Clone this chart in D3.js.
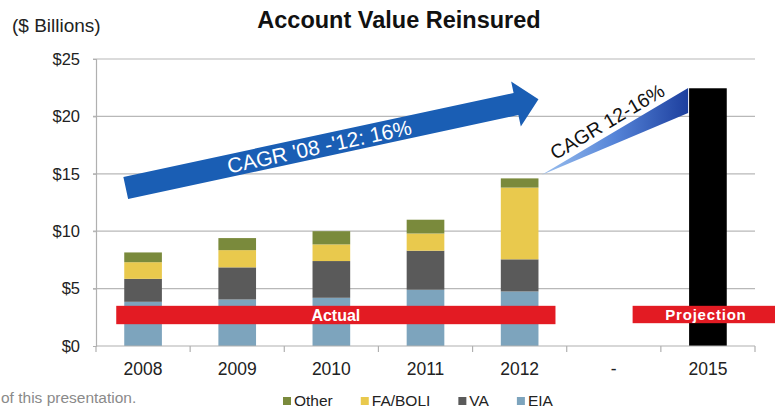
<!DOCTYPE html>
<html>
<head>
<meta charset="utf-8">
<script src="https://cdn.jsdelivr.net/npm/d3@7"></script>
<style>
  body { margin: 0; background: #fff; }
  svg { display: block; font-family: "Liberation Sans", Arial, sans-serif; }
</style>
</head>
<body>
<div id="chart"></div>
<script>
// categories and values ($ billions)
const years = ["2008", "2009", "2010", "2011", "2012", "-", "2015"];
const actualYears = ["2008", "2009", "2010", "2011", "2012"];
const eia    = [3.85, 4.05, 4.2, 4.9, 4.75];
const va     = [2.0, 2.8, 3.2, 3.4, 2.8];
const faBoli = [1.45, 1.5, 1.45, 1.5, 6.25];
const other  = [0.85, 1.05, 1.15, 1.2, 0.8];
const projectionYear = "2015";
const projectionValue = 22.45;
const yTicks = [0, 5, 10, 15, 20, 25];
const seriesNames = ["EIA", "VA", "FA/BOLI", "Other"];
const legendOrder = ["Other", "FA/BOLI", "VA", "EIA"];

const width = 775, height = 409;
const colors = { "EIA": "#7da4bd", "VA": "#5a5a5a", "FA/BOLI": "#e9c94d", "Other": "#7a8a3c" };

const x = d3.scaleBand().domain(years).range([96, 755]).paddingInner(0.6).paddingOuter(0.3);
const y = d3.scaleLinear().domain([0, 25]).range([346, 59]);

const svg = d3.select("#chart").append("svg")
    .attr("width", width)
    .attr("height", height);

// gridlines
svg.append("g").selectAll("line")
   .data(yTicks.filter(d => d > 0))
   .enter().append("line")
   .attr("x1", 93).attr("x2", 755)
   .attr("y1", d => y(d)).attr("y2", d => y(d))
   .attr("stroke", "#b8b8b8").attr("stroke-width", 1.2);

// y axis
const yAxis = svg.append("g")
   .attr("transform", "translate(96,0)")
   .call(d3.axisLeft(y).tickValues(yTicks).tickSize(3).tickFormat(d => "$" + d));
yAxis.select(".domain").attr("stroke", "#b0b0b0").attr("stroke-width", 1.2);
yAxis.selectAll(".tick line").attr("stroke", "#b0b0b0");
yAxis.selectAll("text").attr("font-size", 16.5).attr("fill", "#222").attr("x", -16);

// stacked bars
const rows = actualYears.map((yr, i) => ({ year: yr, "EIA": eia[i], "VA": va[i], "FA/BOLI": faBoli[i], "Other": other[i] }));
const stack = d3.stack().keys(seriesNames)(rows);

svg.append("g").selectAll("g")
   .data(stack)
   .enter().append("g")
   .attr("fill", d => colors[d.key])
   .selectAll("rect")
   .data(d => d)
   .enter().append("rect")
   .attr("x", d => x(d.data.year))
   .attr("width", x.bandwidth())
   .attr("y", d => y(d[1]))
   .attr("height", d => y(d[0]) - y(d[1]));

// projection bar
svg.append("rect")
   .attr("x", x(projectionYear))
   .attr("width", x.bandwidth())
   .attr("y", y(projectionValue))
   .attr("height", y(0) - y(projectionValue))
   .attr("fill", "#000");

// x axis
const x0 = x.range()[0], step = x.step();
svg.append("line")
   .attr("x1", x0).attr("x2", x.range()[1])
   .attr("y1", y(0)).attr("y2", y(0))
   .attr("stroke", "#b0b0b0").attr("stroke-width", 1.2);
svg.append("g").selectAll("line")
   .data(d3.range(years.length + 1))
   .enter().append("line")
   .attr("x1", i => x0 + i * step).attr("x2", i => x0 + i * step)
   .attr("y1", y(0)).attr("y2", y(0) + 6)
   .attr("stroke", "#b0b0b0").attr("stroke-width", 1.2);
svg.append("g").selectAll("text")
   .data(years)
   .enter().append("text")
   .attr("x", d => x(d) + x.bandwidth() / 2)
   .attr("y", 375)
   .attr("text-anchor", "middle")
   .attr("font-size", 17.5)
   .attr("fill", "#222")
   .text(d => d);

// red bands
const bandY = y(3.5), bandH = y(1.9) - y(3.5);
const actL = x("2008") - 8, actR = x("2012") + x.bandwidth() + 17;
svg.append("rect")
   .attr("x", actL).attr("y", bandY)
   .attr("width", actR - actL).attr("height", bandH)
   .attr("fill", "#e31b23");
svg.append("text")
   .attr("x", (actL + actR) / 2)
   .attr("y", bandY + bandH / 2)
   .attr("dy", "0.36em")
   .attr("text-anchor", "middle")
   .attr("font-size", 16).attr("font-weight", "bold").attr("fill", "#fff")
   .text("Actual");
const projL = x("-") + x.bandwidth() + 0;
svg.append("rect")
   .attr("x", projL).attr("y", bandY)
   .attr("width", width - projL).attr("height", bandH - 1)
   .attr("fill", "#e31b23");
svg.append("text")
   .attr("x", x(projectionYear) + x.bandwidth() / 2 - 2)
   .attr("y", bandY + bandH / 2)
   .attr("dy", "0.34em")
   .attr("text-anchor", "middle")
   .attr("font-size", 15).attr("font-weight", "bold").attr("fill", "#fff")
   .attr("letter-spacing", 0.8)
   .text("Projection");

// big blue arrow
const tail = [x("2008") + 1.5, y(13.76)];
const tip = [x("2012") + x.bandwidth(), y(21.5)];
const ang = Math.atan2(tip[1] - tail[1], tip[0] - tail[0]) * 180 / Math.PI;
const L = Math.hypot(tip[0] - tail[0], tip[1] - tail[1]);
const sw = 11.3, hl = 23, hw = 23;
const arrowPts = [[0, -sw], [L - hl, -sw], [L - hl, -hw], [L, 0], [L - hl, hw], [L - hl, sw], [0, sw]];
const arrow = svg.append("g").attr("transform", `translate(${tail[0]},${tail[1]}) rotate(${ang})`);
arrow.append("path")
   .attr("d", d3.line()(arrowPts) + "Z")
   .attr("fill", "#1a5eb4");
arrow.append("text")
   .attr("x", 198).attr("y", 0).attr("dy", "0.36em")
   .attr("text-anchor", "middle")
   .attr("font-size", 21).attr("fill", "#fff")
   .text("CAGR '08 -'12: 16%");

// gradient wedge to projection
const defs = svg.append("defs");
const grad = defs.append("linearGradient").attr("id", "wedge").attr("x1", "0%").attr("x2", "100%").attr("y1", "0%").attr("y2", "0%");
grad.append("stop").attr("offset", "0%").attr("stop-color", "#9cc0ee");
grad.append("stop").attr("offset", "50%").attr("stop-color", "#5584d8");
grad.append("stop").attr("offset", "100%").attr("stop-color", "#1d3f9e");
const w0 = [x("2012") + x.bandwidth() + 3, y(14.9)];
const wTop = [x(projectionYear) - 1, y(22.47)];
const wBot = [x(projectionYear) - 1, y(20.3)];
svg.append("path")
   .attr("d", d3.line()([w0, wTop, wBot]) + "Z")
   .attr("fill", "url(#wedge)");
const wAng = Math.atan2(wTop[1] - w0[1], wTop[0] - w0[0]) * 180 / Math.PI;
svg.append("text")
   .attr("transform", `translate(${(w0[0] + wTop[0]) / 2 - 4},${(w0[1] + wTop[1]) / 2 - 4}) rotate(${wAng})`)
   .attr("text-anchor", "middle")
   .attr("font-size", 19.5).attr("fill", "#111")
   .text("CAGR 12-16%");

// titles
svg.append("text")
   .attr("x", 399).attr("y", 28)
   .attr("text-anchor", "middle")
   .attr("font-size", 23.5).attr("font-weight", "bold").attr("fill", "#111")
   .text("Account Value Reinsured");
svg.append("text")
   .attr("x", 12).attr("y", 32)
   .attr("font-size", 19).attr("fill", "#222")
   .text("($ Billions)");

// footnote
svg.append("text")
   .attr("x", 1).attr("y", 403)
   .attr("font-size", 15.5).attr("fill", "#8a8a8a")
   .text("of this presentation.");

// legend
const legend = svg.append("g");
let lx = 283;
legendOrder.forEach(name => {
  legend.append("rect")
     .attr("x", lx).attr("y", 397).attr("width", 8).attr("height", 8)
     .attr("fill", colors[name]);
  const t = legend.append("text")
     .attr("x", lx + 11).attr("y", 406)
     .attr("font-size", 15.5).attr("fill", "#222")
     .text(name);
  lx += 11 + t.node().getComputedTextLength() + 28;
});
</script>
</body>
</html>
